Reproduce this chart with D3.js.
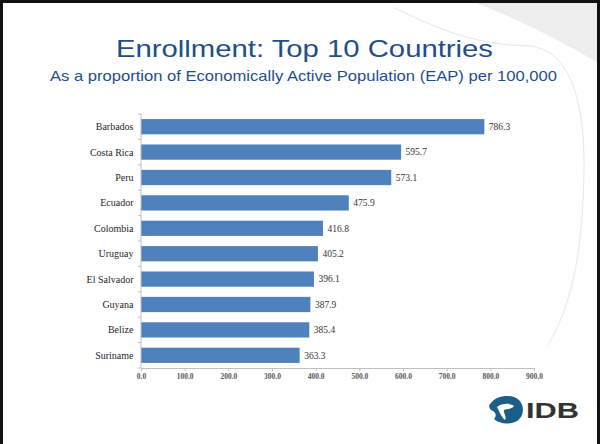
<!DOCTYPE html>
<html>
<head>
<meta charset="utf-8">
<script src="https://cdn.jsdelivr.net/npm/d3@7"></script>
<style>
  html, body { margin: 0; padding: 0; background: #fff; }
  svg { display: block; }
</style>
</head>
<body>
<svg id="chart" width="600" height="444"></svg>
<script>
const categories = ["Barbados", "Costa Rica", "Peru", "Ecuador", "Colombia", "Uruguay", "El Salvador", "Guyana", "Belize", "Suriname"];
const values = [786.3, 595.7, 573.1, 475.9, 416.8, 405.2, 396.1, 387.9, 385.4, 363.3];
const xTicks = [0, 100, 200, 300, 400, 500, 600, 700, 800, 900];
const titleText = "Enrollment: Top 10 Countries";
const subtitleText = "As a proportion of Economically Active Population (EAP) per 100,000";

const svg = d3.select("#chart");

// background swoosh
svg.append("path")
  .attr("d", "M470,0 C500,8 540,18 600,20 L600,0 Z")
  .attr("fill", "#f2f2f2");
svg.append("path")
  .attr("d", "M478,4 C520,20 560,40 600,64 L600,0 L478,0 Z")
  .attr("fill", "#ededed");
svg.append("path")
  .attr("d", "M395,8 C430,25 470,45 530,46 C565,50 585,90 584,170 C583,240 575,300 548,345")
  .attr("fill", "none").attr("stroke", "#e6e6e6").attr("stroke-width", 1);

// title
svg.append("text")
  .attr("x", 116).attr("y", 57)
  .attr("textLength", 377).attr("lengthAdjust", "spacingAndGlyphs")
  .attr("font-family", "Liberation Sans, Arial, sans-serif")
  .attr("font-size", 24).attr("fill", "#1F4E8A")
  .text(titleText);
svg.append("text")
  .attr("x", 50).attr("y", 81)
  .attr("textLength", 507).attr("lengthAdjust", "spacingAndGlyphs")
  .attr("font-family", "Liberation Sans, Arial, sans-serif")
  .attr("font-size", 15).attr("fill", "#1F4E8A")
  .text(subtitleText);

// scales
const x = d3.scaleLinear().domain([0, 900]).range([141, 534]);
const y = d3.scaleBand().domain(categories).range([114, 368]).paddingInner(0.4).paddingOuter(0.2);

// bars
svg.append("g").selectAll("rect")
  .data(categories)
  .join("rect")
  .attr("x", x(0))
  .attr("y", d => y(d))
  .attr("width", (d, i) => x(values[i]) - x(0))
  .attr("height", y.bandwidth())
  .attr("fill", "#4F81BD");

// value labels
svg.append("g").selectAll("text")
  .data(categories)
  .join("text")
  .attr("x", (d, i) => x(values[i]) + 4.5)
  .attr("y", d => y(d) + y.bandwidth() / 2)
  .attr("dy", "0.35em")
  .attr("font-family", "Liberation Serif, Times New Roman, serif")
  .attr("font-size", 9.5).attr("fill", "#333")
  .text((d, i) => d3.format(".1f")(values[i]));

// category labels
svg.append("g").selectAll("text")
  .data(categories)
  .join("text")
  .attr("x", 133.5)
  .attr("y", d => y(d) + y.bandwidth() / 2)
  .attr("dy", "0.35em")
  .attr("text-anchor", "end")
  .attr("font-family", "Liberation Serif, Times New Roman, serif")
  .attr("font-size", 10).attr("fill", "#262626")
  .text(d => d);

// y axis line and ticks at band boundaries
const [y0, y1] = y.range();
svg.append("line")
  .attr("x1", x(0)).attr("x2", x(0)).attr("y1", y0).attr("y2", y1)
  .attr("stroke", "#bfbfbf").attr("stroke-width", 1);
svg.append("g").selectAll("line")
  .data(d3.range(categories.length + 1))
  .join("line")
  .attr("x1", x(0) - 3).attr("x2", x(0))
  .attr("y1", i => y0 + i * y.step())
  .attr("y2", i => y0 + i * y.step())
  .attr("stroke", "#bfbfbf");

// x axis
const xAxis = svg.append("g")
  .attr("transform", `translate(0,${y1})`)
  .call(d3.axisBottom(x).tickValues(xTicks).tickFormat(d3.format(".1f")).tickSize(3).tickSizeOuter(0).tickPadding(3));
xAxis.select(".domain").attr("stroke", "#bfbfbf");
xAxis.selectAll(".tick line").attr("stroke", "#bfbfbf");
xAxis.selectAll(".tick text")
  .attr("font-family", "Liberation Serif, Times New Roman, serif")
  .attr("font-size", 7.5).attr("font-weight", "bold").attr("fill", "#595959");

// logo
const logo = svg.append("g");
logo.append("path")
  .attr("d", "M492,402 C498,395 512,394 519,400 C525,406 524,417 517,421 C510,425 499,424 494,419 C497,415 496,412 491,410 C488,407 489,404 492,402 Z")
  .attr("fill", "#1B5E87");
logo.append("path")
  .attr("d", "M497,407 C502,403 511,403 514,406 C512,409 507,409 504,410 C503,413 507,416 505,420 C502,418 500,413 497,407 Z")
  .attr("fill", "#ffffff");
logo.append("text")
  .attr("x", 526).attr("y", 418)
  .attr("textLength", 53).attr("lengthAdjust", "spacingAndGlyphs")
  .attr("font-family", "Liberation Sans, Arial, sans-serif")
  .attr("font-weight", "bold").attr("font-size", 22).attr("fill", "#333333")
  .text("IDB");

// slide border
svg.append("rect")
  .attr("x", 1.5).attr("y", 1.5).attr("width", 597).attr("height", 460)
  .attr("fill", "none").attr("stroke", "#111").attr("stroke-width", 3);
</script>
</body>
</html>
